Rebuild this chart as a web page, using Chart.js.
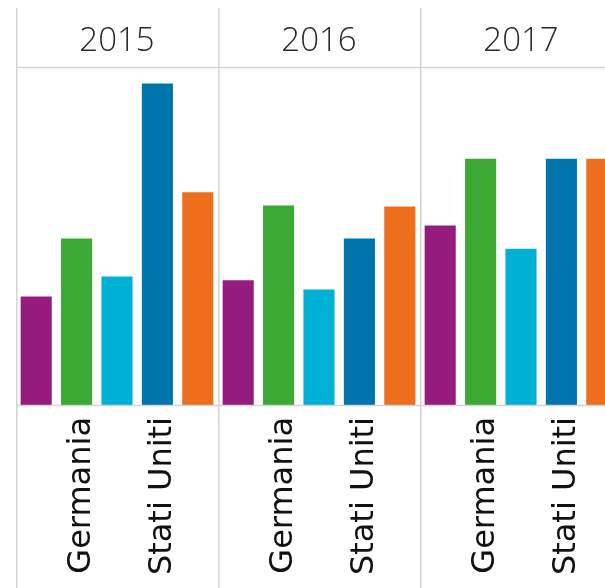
<!DOCTYPE html>
<html>
<head>
<meta charset="utf-8">
<script src="https://cdn.jsdelivr.net/npm/chart.js@4/dist/chart.umd.min.js"></script>
<style>
  html, body { margin: 0; padding: 0; background: #fff; width: 605px; height: 588px; overflow: hidden; }
  .panel { position: absolute; top: 8px; width: 202px; height: 580px; }
  .panel canvas { display: block; }
</style>
</head>
<body>
<div class="panel" style="left:16px"><canvas id="c0" width="202" height="580"></canvas></div>
<div class="panel" style="left:218px"><canvas id="c1" width="202" height="580"></canvas></div>
<div class="panel" style="left:420px"><canvas id="c2" width="202" height="580"></canvas></div>
<script>
// ---- data ----
const years = ["2015", "2016", "2017"];
const categories = ["", "Germania", "", "Stati Uniti", ""];
const barColors = ["#951c7e", "#3ca935", "#00b0d5", "#0075ad", "#ed6e1d"];
const values2015 = [32.2, 49.4, 38.1, 95.4, 63.1];
const values2016 = [37.0, 59.2, 34.3, 49.4, 58.9];
const values2017 = [53.3, 73.1, 46.4, 73.1, 73.1];
const yMax = 100;

const valuesByYear = [values2015, values2016, values2017];

const panelLines = {
  id: 'panelLines',
  afterDraw(chart) {
    const ctx = chart.ctx;
    const a = chart.chartArea;
    ctx.save();
    ctx.strokeStyle = '#d4d4d4';
    ctx.lineWidth = 1.5;
    ctx.beginPath();
    ctx.moveTo(0.75, 0);
    ctx.lineTo(0.75, chart.height);
    ctx.stroke();
    ctx.beginPath();
    ctx.moveTo(0, Math.round(a.top) - 0.5);
    ctx.lineTo(chart.width, Math.round(a.top) - 0.5);
    ctx.stroke();
    ctx.beginPath();
    ctx.moveTo(0, Math.round(a.bottom) + 0.5);
    ctx.lineTo(chart.width, Math.round(a.bottom) + 0.5);
    ctx.stroke();
    ctx.restore();
  }
};

years.forEach((yr, i) => {
  new Chart(document.getElementById('c' + i), {
    type: 'bar',
    data: {
      labels: categories,
      datasets: [{
        data: valuesByYear[i],
        backgroundColor: barColors,
        borderWidth: 0,
        categoryPercentage: 1.0,
        barPercentage: 0.77
      }]
    },
    options: {
      responsive: false,
      animation: false,
      layout: { padding: 0 },
      plugins: {
        legend: { display: false },
        tooltip: { enabled: false },
        title: {
          display: true,
          text: yr,
          color: '#2a2a2a',
          font: { family: '"Open Sans", sans-serif', size: 33, weight: 300, lineHeight: 1.2 },
          padding: { top: 14, bottom: 6.4 }
        }
      },
      scales: {
        x: {
          grid: { display: false, drawTicks: false },
          border: { display: false },
          ticks: {
            autoSkip: false,
            maxRotation: 90,
            minRotation: 90,
            padding: 12,
            labelOffset: 5,
            color: '#111111',
            font: { family: '"DejaVu Sans", sans-serif', size: 32 }
          },
          afterFit(scale) {
            scale.height = 183;
            scale.paddingLeft = 0;
            scale.paddingRight = 0;
          }
        },
        y: {
          display: false,
          min: 0,
          max: yMax
        }
      }
    },
    plugins: [panelLines]
  });
});
</script>
</body>
</html>
